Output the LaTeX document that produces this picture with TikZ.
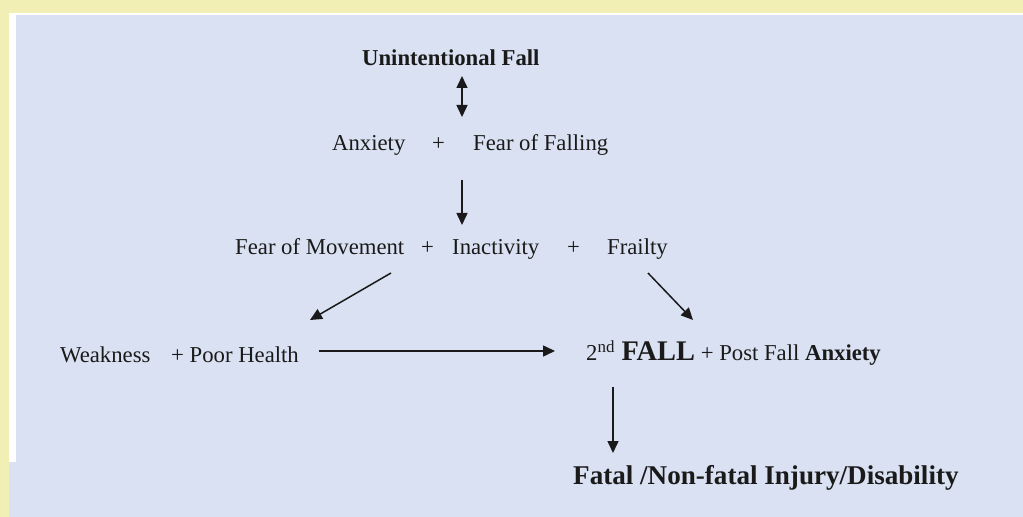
\documentclass[tikz,border=0pt]{standalone}
\usepackage{fontspec}
\setmainfont{Liberation Serif}
\usetikzlibrary{arrows.meta}
\definecolor{bgyellow}{HTML}{F2EFB5}
\definecolor{bgblue}{HTML}{D9E1F2}
\definecolor{ink}{HTML}{1A1A1A}
\tikzset{
  txt/.style={anchor=base west, inner sep=0pt, text=ink, font=\fontsize{22.8}{27}\selectfont},
  btxt/.style={txt, font=\fontsize{22.8}{27}\selectfont\bfseries},
  arr/.style={draw=ink, line width=1.5bp, -{Triangle[length=12bp,width=11bp]}},
  darr/.style={draw=ink, line width=1.5bp, {Triangle[length=12bp,width=11bp]}-{Triangle[length=12bp,width=11bp]}}
}
\begin{document}
\begin{tikzpicture}[x=1bp,y=-1bp]
\useasboundingbox (0,0) rectangle (1023,517);
% background
\fill[bgyellow] (0,0) rectangle (1023,517);
\fill[white] (9,13) rectangle (1023,462);
\fill[bgblue] (16,15) rectangle (1023,517);
\fill[bgblue] (9,462) rectangle (1023,517);
% texts
\node[btxt] (uf) at (362,66) {Unintentional Fall};
\node[txt] (anx) at (332,151) {Anxiety};
\node[txt] (p1) at (432,151) {+};
\node[txt] (fof) at (473,151) {Fear of Falling};
\node[txt] (fom) at (235,255) {Fear of Movement};
\node[txt] (p2) at (421,255) {+};
\node[txt] (ina) at (452,255) {Inactivity};
\node[txt] (p3) at (567,255) {+};
\node[txt] (fra) at (607,255) {Frailty};
\node[txt] (weak) at (60,363) {Weakness};
\node[txt] (poor) at (171,363) {+ Poor Health};
\node[txt] (sec) at (586,361) {2\raisebox{8bp}{\fontsize{17}{17}\selectfont nd}\hspace{7bp}{\fontsize{28.5}{30}\selectfont\bfseries FALL} + Post Fall \textbf{Anxiety}};
\node[btxt, font=\fontsize{27.2}{30}\selectfont\bfseries] (fatal) at (573,484) {Fatal /Non-fatal Injury/Disability};
% connector ends
\coordinate (a1) at (462,76);
\coordinate (a2) at (462,117);
\coordinate (b1) at (462,180);
\coordinate (b2) at (462,225);
\coordinate (c1) at (391,273);
\coordinate (c2) at (310,320);
\coordinate (d1) at (648,273);
\coordinate (d2) at (693,320);
\coordinate (e1) at (319,351);
\coordinate (e2) at (555,351);
\coordinate (f1) at (613,387);
\coordinate (f2) at (613,453);
% connectors
\draw[darr] (a1) -- (a2);
\draw[arr] (b1) -- (b2);
\draw[arr] (c1) -- (c2);
\draw[arr] (d1) -- (d2);
\draw[arr] (e1) -- (e2);
\draw[arr] (f1) -- (f2);
\end{tikzpicture}
\end{document}
